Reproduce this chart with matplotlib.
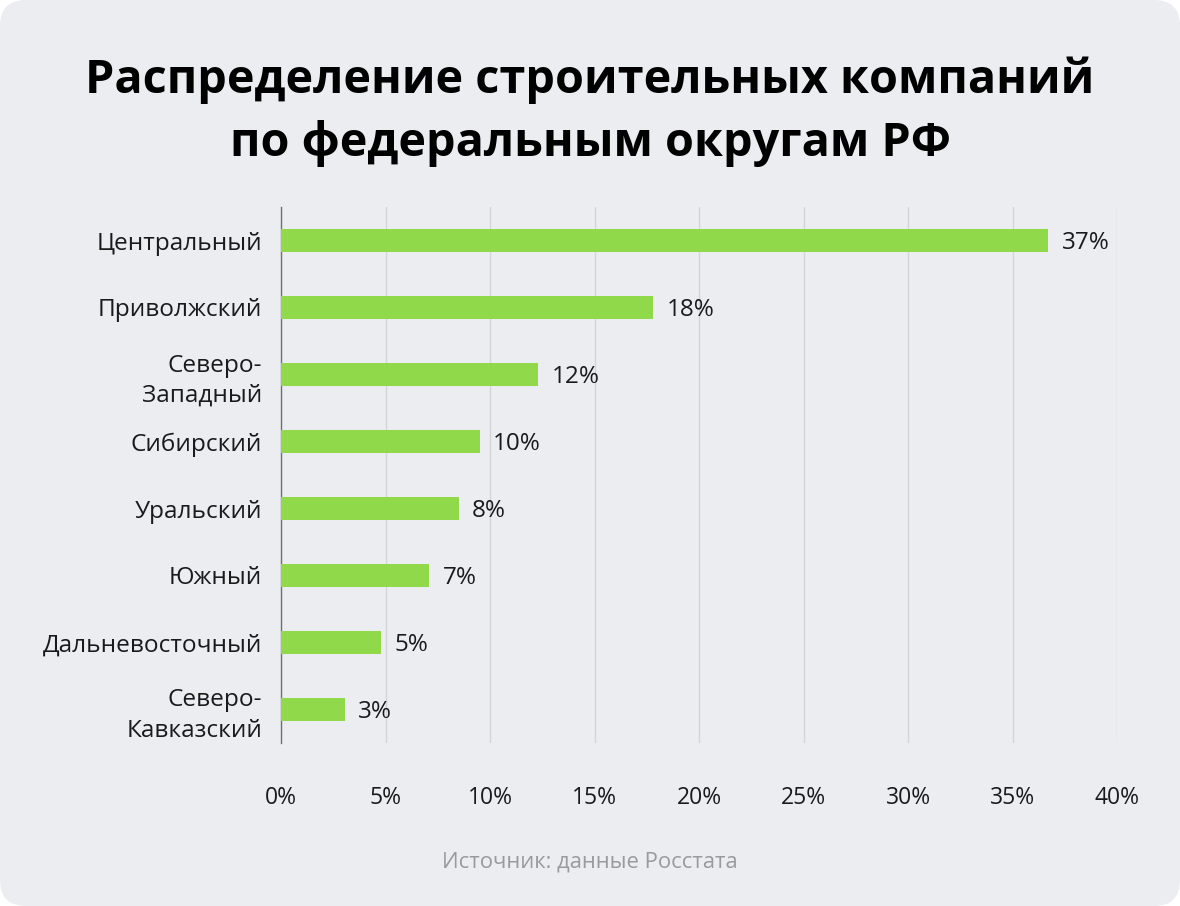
import matplotlib
matplotlib.use("Agg")
import matplotlib.pyplot as plt
from matplotlib.patches import FancyBboxPatch
from matplotlib.ticker import FuncFormatter, MultipleLocator

categories = ["Центральный", "Приволжский", "Северо-\nЗападный", "Сибирский",
              "Уральский", "Южный", "Дальневосточный", "Северо-\nКавказский"]
values = [36.7, 17.8, 12.3, 9.5, 8.5, 7.1, 4.8, 3.05]
value_labels = ["37%", "18%", "12%", "10%", "8%", "7%", "5%", "3%"]
title = "Распределение строительных компаний\nпо федеральным округам РФ"
source = "Источник: данные Росстата"

BG = "#ECEDF1"
BAR = "#8FD94A"

plt.rcParams['font.family'] = ['Open Sans', 'DejaVu Sans']

fig = plt.figure(figsize=(11.8, 9.06), dpi=100)
fig.patch.set_facecolor("white")
bg = FancyBboxPatch((0.0, 0.0), 1.0, 1.0, boxstyle="round,pad=0,rounding_size=0.022",
                    transform=fig.transFigure, facecolor=BG, edgecolor="none",
                    mutation_aspect=1180/906, zorder=-10)
fig.patches.append(bg)

W, H = 1180, 906
left, right, top, bottom = 281, 1117, 207, 743
ax = fig.add_axes([left / W, 1 - bottom / H, (right - left) / W, (bottom - top) / H])
ax.set_facecolor("none")
ax.set_zorder(5)

y = list(range(len(categories)))
ax.barh(y, values, height=0.33, color=BAR, zorder=3)
for yi, v, lab in zip(y, values, value_labels):
    ax.text(v + 0.65, yi + 0.03, lab, va="center", ha="left", fontsize=17.5, color="#1a1a1a")

ax.set_xlim(0, 40)
ax.set_ylim(len(categories) - 0.5, -0.5)
ax.set_yticks(y)
ax.set_yticklabels(categories, fontsize=17.6, color="#1a1a1a", linespacing=1.35)
ax.xaxis.set_major_locator(MultipleLocator(5))
ax.xaxis.set_major_formatter(FuncFormatter(lambda v, p: f"{int(v)}%"))
ax.tick_params(axis="x", labelsize=16.5, colors="#1a1a1a", length=0, pad=31)
ax.tick_params(axis="y", length=0, pad=13.5)
ax.grid(axis="x", color="#D3D4D8", linewidth=1, zorder=0)
for s in ["top", "right", "bottom"]:
    ax.spines[s].set_visible(False)
ax.spines["left"].set_color("#707070")
ax.spines["left"].set_linewidth(1)

fig.text(0.5, 1 - 112 / H, title, ha="center", va="center", fontsize=33.7,
         fontweight="bold", color="#000000", linespacing=1.45)
fig.text(0.5, 1 - 862 / H, source, ha="center", va="center", fontsize=15.8, color="#9A9A9E")

fig.savefig("out.png", dpi=100, facecolor=fig.get_facecolor())
